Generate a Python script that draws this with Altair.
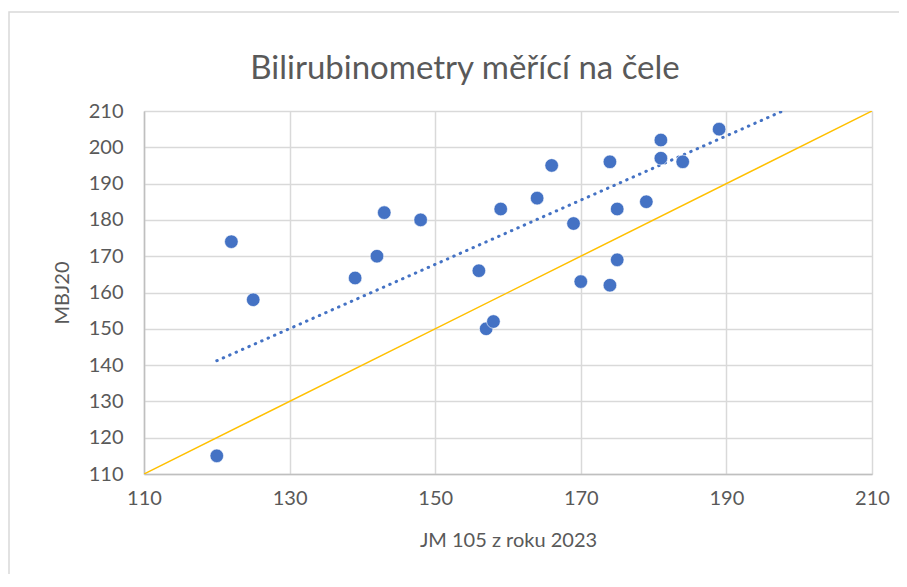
import altair as alt
import pandas as pd

# --- data ---
jm105 = [120, 122, 125, 139, 142, 143, 148, 156, 157, 158, 159, 164,
         166, 169, 170, 174, 174, 175, 175, 179, 181, 181, 184, 189]
mbj20 = [115, 174, 158, 164, 170, 182, 180, 166, 150, 152, 183, 186,
         195, 179, 163, 196, 162, 183, 169, 185, 202, 197, 196, 205]
identity_x = [110, 210]
identity_y = [110, 210]
# dotted trend line as drawn in the reference
trend_x = [120, 200]
trend_y = [141.2, 212.0]
x_ticks = [110, 130, 150, 170, 190, 210]
y_ticks = [110, 120, 130, 140, 150, 160, 170, 180, 190, 200, 210]

pts = pd.DataFrame({"x": jm105, "y": mbj20})
ident = pd.DataFrame({"x": identity_x, "y": identity_y})
trend_df = pd.DataFrame({"x": trend_x, "y": trend_y})

FONT = "Lato"
GRAY = "#595959"
BLUE = "#4472C4"

xs = alt.Scale(domain=[110, 210], nice=False, zero=False)
ys = alt.Scale(domain=[110, 210], nice=False, zero=False)

xaxis = alt.Axis(values=x_ticks, title="JM 105 z roku 2023", grid=True,
                 gridColor="#D9D9D9", gridWidth=1.5, ticks=False,
                 domainColor="#BFBFBF", domainWidth=1.5,
                 labelFont=FONT, labelFontSize=20, labelColor=GRAY,
                 labelPadding=14, labelFlush=False, labelOverlap=False,
                 titleFont=FONT, titleFontSize=20,
                 titleFontWeight="normal", titleColor=GRAY,
                 titleY=56, titleBaseline="top")
yaxis = alt.Axis(values=y_ticks, title="MBJ20", grid=True,
                 gridColor="#D9D9D9", gridWidth=1.5, ticks=False,
                 domainColor="#BFBFBF", domainWidth=1.5,
                 labelFont=FONT, labelFontSize=20, labelColor=GRAY,
                 labelPadding=21, labelFlush=False, labelOverlap=False,
                 titleFont=FONT, titleFontSize=20,
                 titleFontWeight="normal", titleColor=GRAY,
                 titleX=-82, titleBaseline="middle")

X = alt.X("x:Q", scale=xs, axis=xaxis)
Y = alt.Y("y:Q", scale=ys, axis=yaxis)

frame = alt.Chart(pd.DataFrame({"a": [0]})).mark_rect(
    fillOpacity=0, stroke="#D9D9D9", strokeWidth=1.5, clip=False
).encode(x=alt.value(-135), x2=alt.value(900), y=alt.value(-99), y2=alt.value(600))

identity = alt.Chart(ident).mark_line(color="#FFC000", strokeWidth=1.5, clip=True).encode(
    x=X, y=Y,
)

trend = alt.Chart(trend_df).mark_line(
    color=BLUE, strokeWidth=3, strokeDash=[0.5, 6.5], strokeCap="round", clip=True
).encode(x=X, y=Y)

points = alt.Chart(pts).mark_circle(color=BLUE, size=185, opacity=1,
                                     stroke="white", strokeWidth=0.6).encode(x=X, y=Y)

chart = alt.layer(frame, identity, trend, points).properties(
    width=728, height=363,
    title=alt.TitleParams("Bilirubinometry měřící na čele", font=FONT, fontSize=33,
                          fontWeight="normal", color=GRAY, anchor="middle",
                          frame="group", dx=-43, offset=-75),
    autosize=alt.AutoSizeParams(type="none"),
    padding={"left": 136, "top": 103, "right": 27, "bottom": 100},
).configure_view(stroke=None).configure(background="white")

chart.save("out.html", embed_options={"renderer": "svg", "actions": False})
